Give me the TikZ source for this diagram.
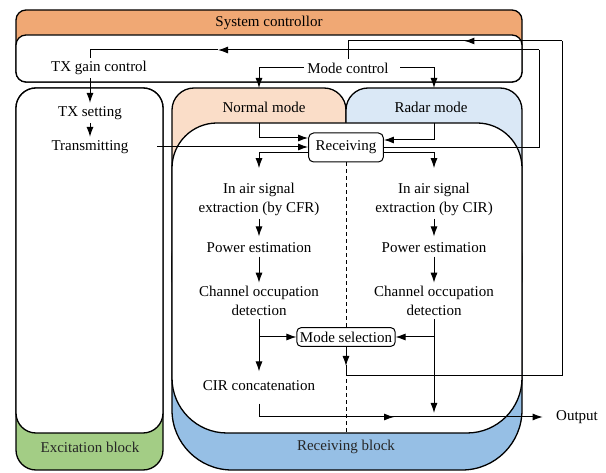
\documentclass[tikz,border=0pt]{standalone}
\usepackage{fontspec}
\setmainfont{Liberation Serif}
\usetikzlibrary{arrows.meta,decorations.markings}

\definecolor{ctrlorange}{RGB}{240,168,116}
\definecolor{normalpeach}{RGB}{250,221,200}
\definecolor{radarblue}{RGB}{218,232,246}
\definecolor{rxblue}{RGB}{150,191,229}
\definecolor{excgreen}{RGB}{163,205,133}

\tikzset{
	every node/.style={font=\fontsize{15}{19}\selectfont},
	lbl/.style={align=center},
	blk/.style={draw, line width=1.3pt},
	procbox/.style={draw, fill=white, rounded corners=5pt, line width=1pt},
	wire/.style={line width=1pt},
	arr/.style={wire, -{Latex[length=10pt,width=7pt]}},
	midarr/.style={wire, postaction=decorate, decoration={markings, mark=at position #1 with {\arrow{Latex[length=10pt,width=7pt]}}}},
	dashline/.style={line width=1pt, dash pattern=on 4pt off 3pt},
}

\begin{document}
\begin{tikzpicture}[x=1pt, y=-1pt]
		%%%%% START %%%%%
		\useasboundingbox (0,0) rectangle (606,473);
		
		% system controllor
		\draw[blk, fill=ctrlorange, rounded corners=10pt] (16,10) rectangle (522,82);
		\draw[blk, fill=white, rounded corners=10pt] (16,35) rectangle (522,82);
		
		% excitation block
		\draw[blk, fill=excgreen, rounded corners=20pt] (16,88) rectangle (163,470);
		\draw[blk, fill=white, rounded corners=20pt] (16,88) rectangle (163,433);
		
		% receiving block
		\draw[blk, fill=rxblue, rounded corners=60pt] (172,200) rectangle (522,470);
		\draw[blk, fill=normalpeach, rounded corners=22pt] (172,88) rectangle (346,300);
		\draw[blk, fill=radarblue, rounded corners=22pt] (346,88) rectangle (522,300);
		\draw[blk, fill=white] (172,300) [rounded corners=45pt] -- (172,123) -- (522,123) -- (522,300)
			[rounded corners=55pt] -- (522,433) -- (172,433) -- cycle;
		
		\node (sys) at (269,23) {System controllor};
		\node (txgain) at (99,68) {TX gain control};
		\node (modectl) at (348,68) {Mode control};
		\node (txset) at (90,113) {TX setting};
		\node (tx) at (90,147) {Transmitting};
		\node (normal) at (264,107) {Normal mode};
		\node (radar) at (431,107) {Radar mode};
		\node[text=black!85] (exc) at (90,447) {Excitation block};
		\node[text=black!85] (rxb) at (346,447) {Receiving block};
		
		\node[procbox, minimum height=29pt, inner xsep=7pt] (rx) at (346,147.5) {Receiving};
		\draw[dashline] (rx.south) -- (346,433);
		
		\node[lbl] (cfr) at (259,199) {In air signal\\extraction (by CFR)};
		\node[lbl] (cir) at (434,199) {In air signal\\extraction (by CIR)};
		\node (pwl) at (259,248) {Power estimation};
		\node (pwr) at (434,248) {Power estimation};
		\node[lbl] (chl) at (259,301) {Channel occupation\\detection};
		\node[lbl] (chr) at (434,301) {Channel occupation\\detection};
		\node (concat) at (259,386) {CIR concatenation};
		\node (out) at (577,417) {Output};
		
		\coordinate (ntop) at (259,88);
		\coordinate (rtop) at (434,88);
		\coordinate (nin) at (259,123);
		\coordinate (rin) at (434,123);
		\coordinate (fbrx) at (539,50);
		\coordinate (fbmid) at (218,50);
		\coordinate (fbtop) at (562,41);
		\coordinate (fbsel) at (562,376);
		\coordinate (selout) at (346,366);
		
		% mode selection feedback
		\draw[arr] (346,348) -- (selout);
		\draw[wire] (selout) |- (fbsel) -- (fbtop);
		\draw[midarr=0.42] (fbtop) -| (modectl.north);
		\node[procbox, rounded corners=4pt, inner xsep=3pt, inner ysep=4pt] (sel) at (346,337) {Mode selection};
		
		% controller
		\draw[arr] (modectl.west) -| (ntop);
		\draw[arr] ([xshift=8pt]modectl.east) -| (rtop);
		\draw[wire] (rx.east) -| (fbrx);
		\draw[arr] (fbrx) -- (fbmid);
		\draw[wire] (fbmid) -| (txgain.north -| txset.north);
		
		% excitation
		\draw[arr] (txgain.south -| txset.north) -- (txset.north);
		\draw[arr] (txset) -- (tx);
		\draw[arr] ([xshift=25pt]tx.east) -- (tx.east -| rx.west);
		
		% receiving
		\draw[arr] (nin) |- ([yshift=9.5pt]rx.west);
		\draw[arr] (rin) |- ([yshift=7.5pt]rx.east);
		\draw[arr] ([yshift=-5.5pt]rx.west) -| ([yshift=11pt]cfr.north);
		\draw[arr] ([yshift=-5.5pt]rx.east) -| ([yshift=11pt]cir.north);
		\draw[arr, shorten >=3pt] (cfr) -- (pwl);
		\draw[arr, shorten >=3pt] (cir) -- (pwr);
		\draw[arr] (pwl) -- (chl);
		\draw[arr] (pwr) -- (chr);
		\draw[arr, shorten >=6pt] (chl) -- (concat);
		\draw[arr] (chl.south |- sel.west) -- (sel.west);
		\draw[arr] (chr.south |- sel.east) -- (sel.east);
		\draw[arr, shorten >=4pt] (chr) -- (chr |- out);
		\draw[arr, midarr=0.5] ([yshift=-9pt]concat.south) |- ([xshift=-10pt]out.west);
		
		%%%%% END %%%%%
\end{tikzpicture}
\end{document}
